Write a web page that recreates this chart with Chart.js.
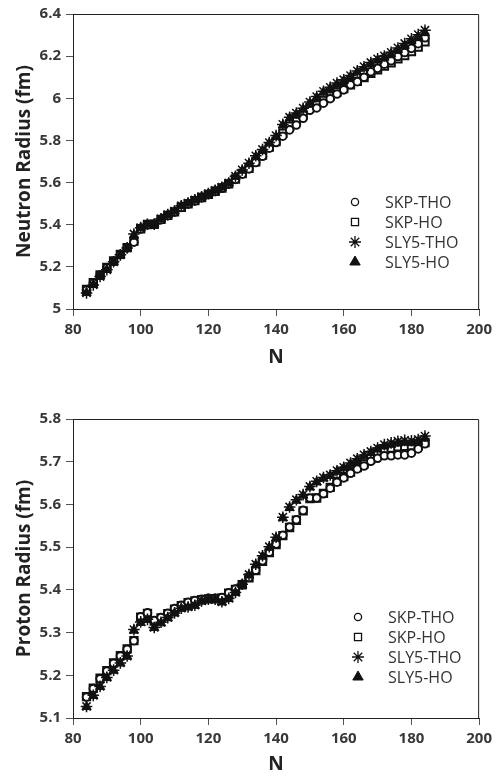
<!DOCTYPE html>
<html>
<head>
<meta charset="utf-8">
<script src="https://cdn.jsdelivr.net/npm/chart.js@4.4.1/dist/chart.umd.min.js"></script>
<style>
    html, body { margin: 0; padding: 0; background: #fff; }
    #wrap { position: relative; width: 497px; height: 776px; }
    .box { position: absolute; left: 0; width: 497px; }
</style>
</head>
<body>
<div id="wrap">
    <div class="box" style="top:0;height:390px"><canvas id="neutronChart"></canvas></div>
    <div class="box" style="top:390px;height:386px"><canvas id="protonChart"></canvas></div>
</div>
<script>
// --- data ---
const seriesNames = ['SKP-THO', 'SKP-HO', 'SLY5-THO', 'SLY5-HO'];

const neutronNumbers = [84, 86, 88, 90, 92, 94, 96, 98, 100, 102, 104, 106, 108, 110, 112, 114, 116, 118, 120, 122,
    124, 126, 128, 130, 132, 134, 136, 138, 140, 142, 144, 146, 148, 150, 152, 154, 156, 158, 160, 162,
    164, 166, 168, 170, 172, 174, 176, 178, 180, 182, 184];

// neutron radius (fm)
const rnSkpTho = [5.090, 5.123, 5.160, 5.195, 5.226, 5.258, 5.290, 5.317, 5.380, 5.400, 5.402, 5.424, 5.443, 5.460, 5.482, 5.498, 5.513, 5.528, 5.543, 5.558,
    5.573, 5.593, 5.615, 5.640, 5.665, 5.695, 5.725, 5.763, 5.790, 5.820, 5.850, 5.873, 5.905, 5.943, 5.954, 5.977, 5.998, 6.020, 6.040, 6.064,
    6.079, 6.100, 6.126, 6.142, 6.162, 6.178, 6.198, 6.217, 6.237, 6.259, 6.287];
const rnSkpHo = [5.093, 5.125, 5.162, 5.197, 5.228, 5.259, 5.291, 5.322, 5.381, 5.401, 5.402, 5.425, 5.444, 5.461, 5.483, 5.499, 5.514, 5.529, 5.544, 5.559,
    5.574, 5.594, 5.617, 5.643, 5.668, 5.698, 5.730, 5.768, 5.795, 5.835, 5.868, 5.890, 5.920, 5.955, 5.970, 5.990, 6.010, 6.030, 6.046, 6.064,
    6.080, 6.098, 6.118, 6.135, 6.153, 6.168, 6.187, 6.203, 6.222, 6.243, 6.268];
const rnSly5Tho = [5.076, 5.114, 5.154, 5.186, 5.224, 5.257, 5.290, 5.356, 5.386, 5.402, 5.403, 5.428, 5.448, 5.465, 5.490, 5.503, 5.518, 5.533, 5.548, 5.563,
    5.578, 5.598, 5.630, 5.660, 5.692, 5.727, 5.757, 5.790, 5.823, 5.876, 5.910, 5.930, 5.953, 5.982, 6.008, 6.033, 6.052, 6.072, 6.088, 6.108,
    6.130, 6.150, 6.170, 6.187, 6.201, 6.218, 6.239, 6.260, 6.282, 6.302, 6.323];
const rnSly5Ho = [5.077, 5.115, 5.155, 5.186, 5.224, 5.256, 5.289, 5.350, 5.385, 5.402, 5.402, 5.427, 5.447, 5.464, 5.489, 5.502, 5.517, 5.532, 5.547, 5.562,
    5.577, 5.597, 5.628, 5.657, 5.688, 5.722, 5.752, 5.786, 5.818, 5.872, 5.905, 5.925, 5.948, 5.977, 6.003, 6.028, 6.046, 6.066, 6.083, 6.102,
    6.124, 6.143, 6.163, 6.180, 6.194, 6.210, 6.230, 6.250, 6.272, 6.292, 6.310];

// proton radius (fm)
const rpSkpTho = [5.149, 5.169, 5.192, 5.210, 5.228, 5.245, 5.261, 5.281, 5.337, 5.346, 5.328, 5.335, 5.345, 5.356, 5.364, 5.371, 5.375, 5.378, 5.380, 5.380,
    5.382, 5.393, 5.402, 5.413, 5.429, 5.446, 5.468, 5.488, 5.507, 5.528, 5.547, 5.564, 5.586, 5.615, 5.615, 5.625, 5.638, 5.652, 5.662, 5.673,
    5.683, 5.690, 5.701, 5.708, 5.714, 5.714, 5.716, 5.716, 5.720, 5.730, 5.742];
const rpSkpHo = [5.150, 5.170, 5.193, 5.211, 5.229, 5.246, 5.262, 5.281, 5.336, 5.345, 5.327, 5.334, 5.344, 5.355, 5.363, 5.370, 5.374, 5.377, 5.379, 5.379,
    5.381, 5.392, 5.401, 5.412, 5.428, 5.445, 5.467, 5.487, 5.506, 5.527, 5.546, 5.563, 5.585, 5.614, 5.615, 5.626, 5.640, 5.654, 5.665, 5.676,
    5.686, 5.695, 5.707, 5.718, 5.728, 5.732, 5.735, 5.736, 5.737, 5.738, 5.745];
const rpSly5Tho = [5.127, 5.153, 5.174, 5.195, 5.212, 5.229, 5.245, 5.307, 5.325, 5.331, 5.312, 5.324, 5.335, 5.346, 5.357, 5.360, 5.364, 5.374, 5.378, 5.378,
    5.372, 5.380, 5.394, 5.413, 5.436, 5.460, 5.480, 5.501, 5.523, 5.570, 5.594, 5.611, 5.623, 5.642, 5.654, 5.663, 5.669, 5.679, 5.687, 5.697,
    5.707, 5.716, 5.724, 5.732, 5.740, 5.744, 5.748, 5.750, 5.749, 5.752, 5.760];
const rpSly5Ho = [5.126, 5.152, 5.173, 5.194, 5.211, 5.228, 5.244, 5.305, 5.323, 5.330, 5.311, 5.322, 5.334, 5.345, 5.356, 5.359, 5.363, 5.373, 5.377, 5.377,
    5.371, 5.379, 5.393, 5.412, 5.434, 5.458, 5.478, 5.499, 5.521, 5.568, 5.592, 5.609, 5.621, 5.640, 5.652, 5.661, 5.667, 5.677, 5.685, 5.694,
    5.704, 5.713, 5.721, 5.729, 5.736, 5.740, 5.743, 5.745, 5.744, 5.747, 5.755];

const nTicks = [80, 100, 120, 140, 160, 180, 200];
const rnTicks = [5, 5.2, 5.4, 5.6, 5.8, 6, 6.2, 6.4];
const rpTicks = [5.1, 5.2, 5.3, 5.4, 5.5, 5.6, 5.7, 5.8];

// --- styling ---
Chart.defaults.font.family = '"Open Sans", "DejaVu Sans", sans-serif';
Chart.defaults.color = '#383838';

const ink = '#111';
const markers = [
    { pointStyle: 'circle',   radius: 3.8, fill: '#fff', borderWidth: 2,   order: 2 },
    { pointStyle: 'rect',     radius: 5.2, fill: '#fff', borderWidth: 2,   order: 3 },
    { pointStyle: 'star',     radius: 5.8, fill: ink,    borderWidth: 1.5, order: 1 },
    { pointStyle: 'triangle', radius: 5.4, fill: ink,    borderWidth: 1,   order: 0 }
];

function toPoints(values) {
    return neutronNumbers.map((n, i) => ({ x: n, y: values[i] }));
}

// frame on top/right + legend inside the plot
const frameAndKey = {
    id: 'frameAndKey',
    afterDatasetsDraw(chart, args, opts) {
        const { ctx, chartArea: a } = chart;
        ctx.save();
        ctx.strokeStyle = '#222';
        ctx.lineWidth = 1;
        ctx.beginPath();
        ctx.moveTo(a.left, a.top + 0.5);
        ctx.lineTo(a.right - 0.5, a.top + 0.5);
        ctx.lineTo(a.right - 0.5, a.bottom);
        ctx.stroke();

        ctx.font = '16px "Open Sans", sans-serif';
        ctx.textBaseline = 'middle';
        ctx.textAlign = 'left';
        seriesNames.forEach((name, i) => {
            const m = markers[i];
            const x = a.left + opts.keyX;
            const y = a.top + opts.keyY + i * 20;
            ctx.fillStyle = m.fill;
            ctx.strokeStyle = ink;
            ctx.lineWidth = m.pointStyle === 'triangle' ? 1 : 1.3;
            Chart.helpers.drawPoint(ctx, {
                pointStyle: m.pointStyle,
                radius: m.pointStyle === 'circle' ? 3.6 : (m.pointStyle === 'rect' ? 5 : 6),
                rotation: 0,
                borderWidth: ctx.lineWidth
            }, x, y);
            ctx.fillStyle = '#333';
            ctx.fillText(name, x + 30, y + 1);
        });
        ctx.restore();
    }
};

function makeChart(canvasId, values, yMin, yMax, yStep, yTicks, yTitle, geo) {
    const datasets = values.map((vals, i) => ({
        label: seriesNames[i],
        data: toPoints(vals),
        pointStyle: markers[i].pointStyle,
        pointRadius: markers[i].radius,
        pointBackgroundColor: markers[i].fill,
        pointBorderColor: ink,
        pointBorderWidth: markers[i].borderWidth,
        order: markers[i].order,
        showLine: false
    }));

    return new Chart(document.getElementById(canvasId), {
        type: 'scatter',
        data: { datasets: datasets },
        plugins: [frameAndKey],
        options: {
            responsive: true,
            maintainAspectRatio: false,
            animation: false,
            layout: { padding: { top: geo.top, right: 16, left: 0, bottom: 0 } },
            plugins: {
                legend: { display: false },
                tooltip: { enabled: false },
                frameAndKey: { keyX: geo.keyX, keyY: geo.keyY }
            },
            scales: {
                x: {
                    type: 'linear',
                    min: nTicks[0],
                    max: nTicks[nTicks.length - 1],
                    afterBuildTicks: s => { s.ticks = nTicks.map(v => ({ value: v })); },
                    ticks: { font: { size: 15, weight: 'bold' }, padding: 5, maxRotation: 0 },
                    grid: { drawOnChartArea: false, tickLength: 7, color: '#555' },
                    border: { color: '#222', width: 1 },
                    title: {
                        display: true, text: 'N', color: '#222',
                        font: { size: 19, weight: 'bold' },
                        padding: { top: 0, bottom: geo.titleBottom }
                    },
                    afterFit: s => { s.height = geo.xHeight; }
                },
                y: {
                    type: 'linear',
                    min: yMin,
                    max: yMax,
                    afterBuildTicks: s => { s.ticks = yTicks.map(v => ({ value: v })); },
                    ticks: {
                        stepSize: yStep,
                        font: { size: 15, weight: 'bold' },
                        padding: 5,
                        callback: v => String(+v.toFixed(2))
                    },
                    grid: { drawOnChartArea: false, tickLength: 7, color: '#555' },
                    border: { color: '#222', width: 1 },
                    title: {
                        display: true, text: yTitle, color: '#222',
                        font: { size: 19, weight: 'bold' },
                        padding: { top: 13, bottom: 0 }
                    },
                    afterFit: s => { s.width = 73; }
                }
            }
        }
    });
}

// 1. neutron radius
makeChart('neutronChart', [rnSkpTho, rnSkpHo, rnSly5Tho, rnSly5Ho], 5, 6.4, 0.2, rnTicks,
    'Neutron Radius (fm)', { top: 11, xHeight: 81, titleBottom: 21, keyX: 282, keyY: 188 });

// 2. proton radius
makeChart('protonChart', [rpSkpTho, rpSkpHo, rpSly5Tho, rpSly5Ho], 5.1, 5.8, 0.1, rpTicks,
    'Proton Radius (fm)', { top: 29, xHeight: 58, titleBottom: 0, keyX: 285, keyY: 198 });
</script>
</body>
</html>
